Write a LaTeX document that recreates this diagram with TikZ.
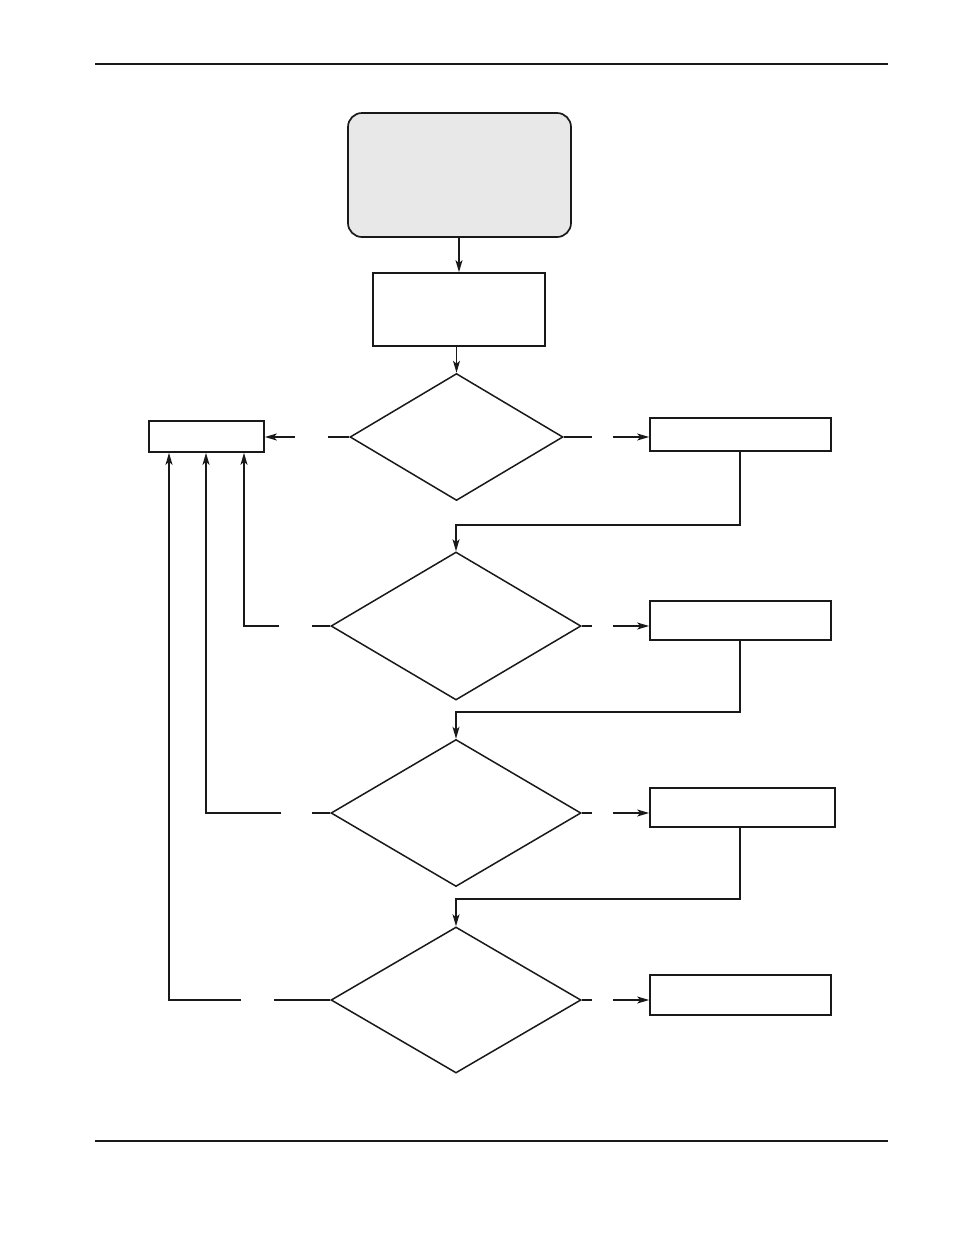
\documentclass[tikz,border=0pt]{standalone}
\usetikzlibrary{shapes.geometric,arrows.meta}
\begin{document}
\begin{tikzpicture}[x=1pt,y=-1pt,
  boxline/.style={draw=black!90,line width=1.7pt},
  rbox/.style={boxline,rectangle,inner sep=0pt},
  dia/.style={boxline,diamond,inner sep=0pt,line width=1.5pt},
  wire/.style={draw=black!90,line width=1.4pt},
  arr/.style={wire,-{Stealth[length=12pt,width=7pt,inset=3pt]}}]
\useasboundingbox (0,0) rectangle (954,1235);
% page rules
\coordinate (tl) at (95,64); \coordinate (tr) at (888,64);
\coordinate (bl) at (95,1141); \coordinate (br) at (888,1141);
\draw[line width=1.1pt,black!90] (tl) -- (tr);
\draw[line width=2.4pt,black!90] (bl) -- (br);
% nodes
\node[boxline,rounded corners=14pt,fill=black!9,minimum width=223pt,minimum height=124pt,inner sep=0pt] (start) at (459.5,175) {};
\node[rbox,minimum width=172pt,minimum height=73pt] (proc) at (459,309.5) {};
\node[dia,minimum width=213pt,minimum height=127pt] (d1) at (456.5,437) {};
\node[dia,minimum width=250pt,minimum height=148pt] (d2) at (456,626) {};
\node[dia,minimum width=250pt,minimum height=147pt] (d3) at (456,813) {};
\node[dia,minimum width=250pt,minimum height=146pt] (d4) at (456,1000) {};
\node[rbox,minimum width=115pt,minimum height=31pt] (lb) at (206.5,436.5) {};
\node[rbox,minimum width=181pt,minimum height=33pt] (r1) at (740.5,434.5) {};
\node[rbox,minimum width=181pt,minimum height=39pt] (r2) at (740.5,620.5) {};
\node[rbox,minimum width=185pt,minimum height=39pt] (r3) at (742.5,807.5) {};
\node[rbox,minimum width=181pt,minimum height=40pt] (r4) at (740.5,995) {};
% main flow
\draw[arr] (start.south -| proc.north) -- (proc.north);
\draw[arr] (proc.south -| d1.north) -- (d1.north);
% right branches
\coordinate (a1) at (592,437); \coordinate (b1) at (613,437);
\coordinate (a2) at (592,626); \coordinate (b2) at (613,626);
\coordinate (a3) at (592,813); \coordinate (b3) at (613,813);
\coordinate (a4) at (592,1000); \coordinate (b4) at (613,1000);
\draw[wire] (d1.east) -- (a1); \draw[arr] (b1) -- (b1 -| r1.west);
\draw[wire] (d2.east) -- (a2); \draw[arr] (b2) -- (b2 -| r2.west);
\draw[wire] (d3.east) -- (a3); \draw[arr] (b3) -- (b3 -| r3.west);
\draw[wire] (d4.east) -- (a4); \draw[arr] (b4) -- (b4 -| r4.west);
% returns from right boxes
\coordinate (k1) at (740,525); \coordinate (k2) at (740,712); \coordinate (k3) at (740,899);
\draw[arr] (r1.south -| k1) -- (k1) -- (k1 -| d2.north) -- (d2.north);
\draw[arr] (r2.south -| k2) -- (k2) -- (k2 -| d3.north) -- (d3.north);
\draw[arr] (r3.south -| k3) -- (k3) -- (k3 -| d4.north) -- (d4.north);
% left branches
\coordinate (l1a) at (328,437); \coordinate (l1b) at (295,437);
\draw[wire] (d1.west) -- (l1a); \draw[arr,line width=1.7pt] (l1b) -- (l1b -| lb.east);
\coordinate (l2a) at (312,626); \coordinate (l2b) at (279,626); \coordinate (l2c) at (244,626);
\draw[wire] (d2.west) -- (l2a); \draw[arr] (l2b) -- (l2c) -- (lb.south -| l2c);
\coordinate (l3a) at (312,813); \coordinate (l3b) at (281,813); \coordinate (l3c) at (206,813);
\draw[wire] (d3.west) -- (l3a); \draw[arr,line width=1.7pt] (l3b) -- (l3c) -- (lb.south -| l3c);
\coordinate (l4a) at (274,1000); \coordinate (l4b) at (241,1000); \coordinate (l4c) at (169,1000);
\draw[wire] (d4.west) -- (l4a); \draw[arr] (l4b) -- (l4c) -- (lb.south -| l4c);
\end{tikzpicture}
\end{document}
